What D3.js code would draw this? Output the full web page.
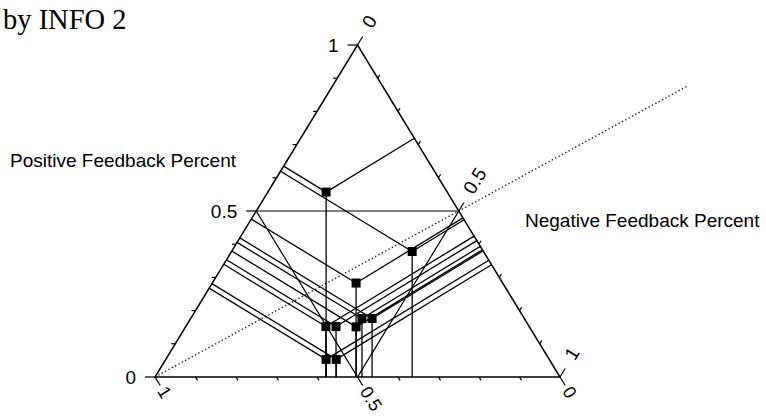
<!DOCTYPE html>
<html>
<head>
<meta charset="utf-8">
<script src="https://cdn.jsdelivr.net/npm/d3@7"></script>
<style>
  body { margin: 0; background: #fff; }
  text { font-family: "Liberation Sans", Arial, sans-serif; fill: #000; }
</style>
</head>
<body>
<svg id="chart" width="766" height="416"></svg>
<script>
// values (fractions)
const positive = [0.557, 0.378, 0.283, 0.152, 0.152, 0.151, 0.176, 0.176, 0.053, 0.053];
const negative = [0.144, 0.446, 0.355, 0.346, 0.371, 0.421, 0.423, 0.448, 0.396, 0.421];
const tickValues = [0, 0.1, 0.2, 0.3, 0.4, 0.5, 0.6, 0.7, 0.8, 0.9, 1];
const labelValues = [0, 0.5, 1];
const labelText = ["0", "0.5", "1"];

const svg = d3.select("#chart");

// ternary frame: base coordinate + positive fraction (height)
const x = d3.scaleLinear().domain([0, 1]).range([155, 560]);
const y = d3.scaleLinear().domain([0, 1]).range([377, 45]);
const pt = (p, n) => [x(n + p / 2), y(p)];

const A = pt(0, 0), B = pt(0, 1), C = pt(1, 0);

function unit(a, b) {
    const dx = b[0] - a[0], dy = b[1] - a[1], l = Math.hypot(dx, dy);
    return [dx / l, dy / l];
}
function foot(P, e1, e2) {
    const dx = e2[0] - e1[0], dy = e2[1] - e1[1];
    const t = ((P[0] - e1[0]) * dx + (P[1] - e1[1]) * dy) / (dx * dx + dy * dy);
    return [e1[0] + t * dx, e1[1] + t * dy];
}
const uL = unit(A, C);   // up-right, along left edge
const uR = unit(C, B);   // down-right, along right edge
const angL = Math.atan2(uL[1], uL[0]) * 180 / Math.PI;
const angR = Math.atan2(uR[1], uR[0]) * 180 / Math.PI;

const line = d3.line();
const isMajor = t => labelValues.some(v => Math.abs(v - t) < 1e-6);

// title
svg.append("text").attr("x", 3).attr("y", 29)
    .style("font-family", "'Liberation Serif', 'Times New Roman', serif")
    .style("font-size", "28.5px").text("by INFO 2");

svg.append("text").attr("x", 10).attr("y", 167).style("font-size", "19px").text("Positive Feedback Percent");
svg.append("text").attr("x", 525).attr("y", 227).style("font-size", "19px").text("Negative Feedback Percent");

// dotted median from bottom-left corner through right-edge midpoint
const Mr = pt(0.5, 0.5), Ml = pt(0.5, 0), Mb = pt(0, 0.5);
const ext = 1.75;
svg.append("path")
    .attr("d", line([A, [A[0] + ext * (Mr[0] - A[0]), A[1] + ext * (Mr[1] - A[1])]]))
    .attr("stroke", "#222").attr("stroke-width", 1.4).attr("fill", "none")
    .attr("stroke-dasharray", "1.4,2.4");

// triangle frame
svg.append("path").attr("d", line([A, B, C]) + "Z")
    .attr("fill", "none").attr("stroke", "#000").attr("stroke-width", 1.5);

// medial triangle
svg.append("path").attr("d", line([Ml, Mr, Mb]) + "Z")
    .attr("fill", "none").attr("stroke", "#000").attr("stroke-width", 1.2);

// ticks
const ticks = svg.append("g").attr("stroke", "#000").attr("stroke-width", 1.2);
tickValues.forEach(t => {
    const len = isMajor(t) ? 10 : 4;
    const pl = pt(t, 0);
    ticks.append("path").attr("d", line([pl, [pl[0] - len, pl[1]]]));
    const pr = pt(1 - t, t);
    ticks.append("path").attr("d", line([pr, [pr[0] + len * uL[0], pr[1] + len * uL[1]]]));
    const pb = pt(0, 1 - t);
    ticks.append("path").attr("d", line([pb, [pb[0] + len * uR[0], pb[1] + len * uR[1]]]));
});

// tick labels
labelValues.forEach((t, i) => {
    const pl = pt(t, 0);
    svg.append("text").attr("x", pl[0] - 19).attr("y", pl[1])
        .attr("text-anchor", "end").attr("dominant-baseline", "central")
        .style("font-size", "19px").text(labelText[i]);

    const pr = pt(1 - t, t);
    const d1 = 21, off1 = -2;
    const rx = pr[0] + d1 * uL[0] + off1 * (-uL[1]), ry = pr[1] + d1 * uL[1] + off1 * uL[0];
    svg.append("text").attr("transform", `translate(${rx},${ry}) rotate(${angL})`)
        .attr("dominant-baseline", "central").style("font-size", "19px").text(labelText[i]);

    const pb = pt(0, 1 - t);
    const d2 = 13;
    const bx = pb[0] + d2 * uR[0], by = pb[1] + d2 * uR[1];
    svg.append("text").attr("transform", `translate(${bx},${by}) rotate(${angR})`)
        .attr("dominant-baseline", "central").style("font-size", "18px").text(labelText[i]);
});

// data: perpendicular projections to each edge, then the markers
const points = positive.map((p, i) => pt(p, negative[i]));
const proj = svg.append("g").attr("stroke", "#000").attr("stroke-width", 1.3).attr("fill", "none");
points.forEach(P => {
    [[A, C], [C, B], [A, B]].forEach(([e1, e2]) => {
        proj.append("path").attr("d", line([P, foot(P, e1, e2)]));
    });
});

const s = 9;
svg.append("g").selectAll("rect").data(points).join("rect")
    .attr("x", d => d[0] - s / 2).attr("y", d => d[1] - s / 2)
    .attr("width", s).attr("height", s).attr("fill", "#000");
</script>
</body>
</html>
